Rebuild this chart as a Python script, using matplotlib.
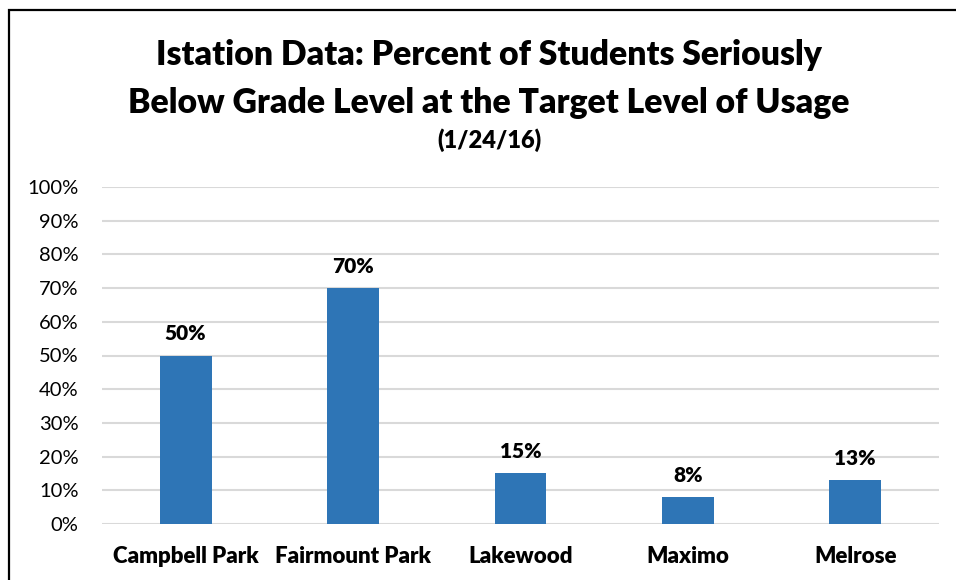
import matplotlib
matplotlib.use("Agg")
import matplotlib.pyplot as plt
from matplotlib.patches import Rectangle

categories = ["Campbell Park", "Fairmount Park", "Lakewood", "Maximo", "Melrose"]
values = [50, 70, 15, 8, 13]
labels = ["50%", "70%", "15%", "8%", "13%"]
yticks = [0, 10, 20, 30, 40, 50, 60, 70, 80, 90, 100]
ytick_labels = [f"{v}%" for v in yticks]

plt.rcParams['font.family'] = ['Lato', 'DejaVu Sans']

W, H = 956, 580
fig = plt.figure(figsize=(W / 100, H / 100), dpi=100)
fig.patch.set_facecolor("white")

# plot area in pixel coordinates
left, right, top, bottom = 102, 939, 187, 524
ax = fig.add_axes([left / W, 1 - bottom / H, (right - left) / W, (bottom - top) / H])

x = list(range(len(categories)))
ax.bar(x, values, width=0.31, color="#2E75B6", zorder=3)
ax.set_xlim(-0.5, len(categories) - 0.5)
ax.set_ylim(0, 100)
ax.set_yticks(yticks)
ax.set_yticklabels(ytick_labels, fontsize=14.5, color="#000000")
ax.set_xticks(x)
ax.set_xticklabels(categories, fontsize=16, fontweight="heavy", color="#000000")
ax.tick_params(axis="both", length=0)
ax.tick_params(axis="y", pad=17)
ax.tick_params(axis="x", pad=16)
ax.yaxis.grid(True, color="#d9d9d9", linewidth=1.5, zorder=0)
for s in ax.spines.values():
    s.set_visible(False)

for xi, v, lab in zip(x, values, labels):
    ax.annotate(lab, (xi, v), xytext=(0, 9), textcoords="offset points",
                ha="center", va="bottom", fontsize=15, fontweight="heavy")

cx = 489 / W
fig.text(cx, 1 - 55 / H, "Istation Data: Percent of Students Seriously",
         ha="center", va="center", fontsize=24.3, fontweight="heavy")
fig.text(cx, 1 - 103 / H, "Below Grade Level at the Target Level of Usage",
         ha="center", va="center", fontsize=24.3, fontweight="heavy")
fig.text(cx, 1 - 140 / H, "(1/24/16)",
         ha="center", va="center", fontsize=17, fontweight="heavy")

# figure border (cropped on right and bottom)
fig.add_artist(Rectangle((9 / W, -0.05), 1.1, 1 - 10 / H + 0.05,
                         transform=fig.transFigure, fill=False,
                         edgecolor="black", linewidth=1.6))

fig.savefig("out.png", dpi=100)
